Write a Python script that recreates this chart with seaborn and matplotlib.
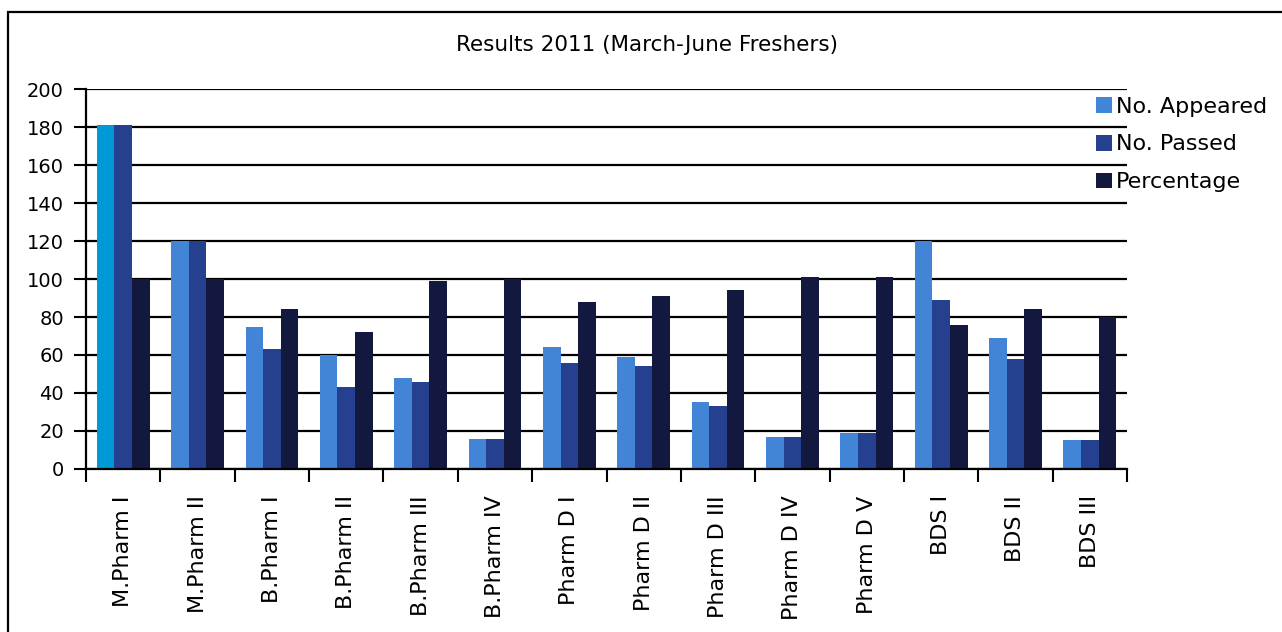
import pandas as pd
import numpy as np
import matplotlib.pyplot as plt
import matplotlib.patches as mpatches
import seaborn as sns

# Values
courses = ['M.Pharm I', 'M.Pharm II', 'B.Pharm I', 'B.Pharm II', 'B.Pharm III',
           'B.Pharm IV', 'Pharm D I', 'Pharm D II', 'Pharm D III', 'Pharm D IV',
           'Pharm D V', 'BDS I', 'BDS II', 'BDS III']
appeared = [181, 120, 75, 60, 48, 16, 64, 59, 35, 17, 19, 120, 69, 15]
passed = [181, 120, 63, 43, 46, 16, 56, 54, 33, 17, 19, 89, 58, 15]
percentage = [100, 100, 84, 72, 99, 100, 88, 91, 94, 101, 101, 76, 84, 80]

series_names = ['No. Appeared', 'No. Passed', 'Percentage']
colors = ['#4285D6', '#25408F', '#13183F']
highlight = '#0099D5'   # first bar has its own colour in the original

df = pd.DataFrame({
    'Course': courses * 3,
    'Series': np.repeat(series_names, len(courses)),
    'Value': appeared + passed + percentage,
})

sns.set_theme(style='white')
plt.rcParams['font.family'] = ['DejaVu Sans']
plt.rcParams['text.color'] = 'black'
plt.rcParams['xtick.color'] = 'black'
plt.rcParams['ytick.color'] = 'black'

fig = plt.figure(figsize=(12.82, 6.32), dpi=100)
ax = fig.add_axes([0.0671, 0.258, 0.8120, 0.601])

sns.barplot(data=df, x='Course', y='Value', hue='Series', order=courses,
            hue_order=series_names, palette=colors, width=0.71,
            linewidth=0, saturation=1, ax=ax)

# recolour first bar
ax.containers[0][0].set_facecolor(highlight)

ax.set_xlim(-0.5, len(courses) - 0.5)
ax.set_ylim(0, 200)
ax.set_yticks(range(0, 201, 20))
ax.set_xlabel('')
ax.set_ylabel('')

# ticks at category boundaries, labels at centres
ax.set_xticks(np.arange(-0.5, len(courses), 1.0))
ax.set_xticklabels([])
ax.set_xticks(range(len(courses)), minor=True)
ax.set_xticklabels(courses, minor=True, rotation=90, fontsize=16, va='top')
ax.tick_params(axis='x', which='major', direction='out', length=9, width=1.5,
               color='black', bottom=True)
ax.tick_params(axis='x', which='minor', length=0, pad=19)
ax.tick_params(axis='y', direction='out', length=9, width=1.5, color='black',
               left=True, labelsize=14, pad=7)

ax.yaxis.grid(True, color='black', linewidth=1.6)
ax.set_axisbelow(True)
for side in ['top', 'right']:
    ax.spines[side].set_visible(False)
for side in ['left', 'bottom']:
    ax.spines[side].set_color('black')
    ax.spines[side].set_linewidth(1.6)

leg = ax.legend(loc='upper left', bbox_to_anchor=(0.970, 0.980), frameon=False,
                fontsize=16, handlelength=0.75, handleheight=0.72,
                handletextpad=0.17, labelspacing=0.8, borderaxespad=0,
                borderpad=0)
for h in leg.legend_handles:
    h.set_linewidth(0)

fig.text(0.505, 0.929, 'Results 2011 (March-June Freshers)', ha='center',
         va='center', fontsize=15.5, color='black')

# outer frame
fig.patches.append(mpatches.Rectangle((8 / 1282, -0.1), 1.1, 0.1 + 1 - 12 / 632,
                                      transform=fig.transFigure, fill=False,
                                      edgecolor='black', linewidth=1.6))

plt.savefig('out.png', dpi=100)
